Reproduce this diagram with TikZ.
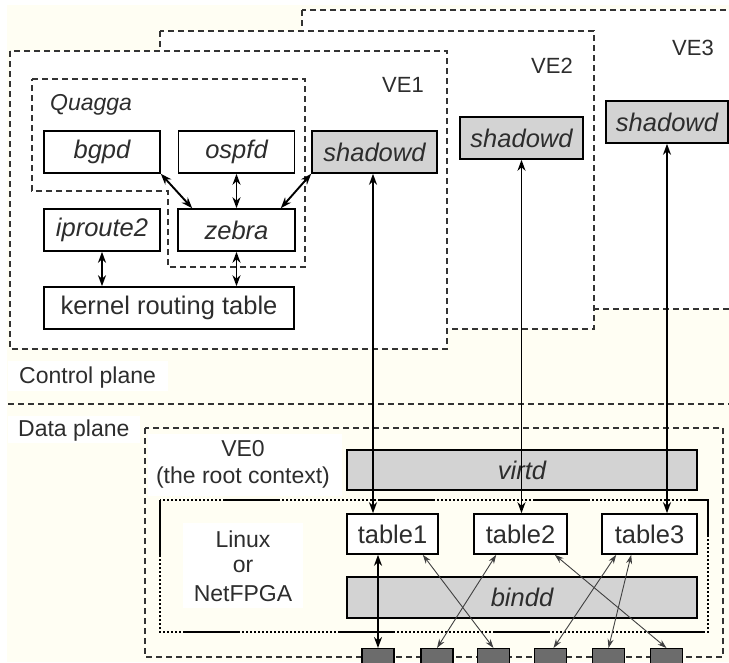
\documentclass[tikz,border=0pt]{standalone}
\usepackage{fontspec}
\setmainfont{Liberation Sans}
\usetikzlibrary{arrows.meta,calc}
\definecolor{cream}{RGB}{255,254,243}
\definecolor{boxgray}{RGB}{211,211,211}
\definecolor{sqgray}{RGB}{108,108,108}
\definecolor{txt}{RGB}{45,45,45}
\newcommand\lsz{\fontsize{23}{27}\selectfont}
\newcommand\bsz{\fontsize{25.5}{29}\selectfont}
\begin{document}
\begin{tikzpicture}[x=1pt,y=-1pt,
  box/.style={draw=black, line width=1.6pt, fill=white, minimum height=42pt, inner sep=0pt, text=txt, font=\bsz},
  ibox/.style={box, font=\bsz\itshape},
  gbox/.style={ibox, fill=boxgray},
  vebox/.style={draw=black!80, line width=1.4pt, dash pattern=on 6pt off 4pt},
  lbl/.style={text=txt, inner sep=0pt, font=\lsz},
  wlbl/.style={fill=white, inner sep=0pt},
  arr/.style={{Stealth[length=11pt,width=8pt]}-{Stealth[length=11pt,width=8pt]}, line width=1.9pt, draw=black},
  thinarr/.style={{Stealth[length=9pt,width=6pt]}-{Stealth[length=9pt,width=6pt]}, line width=0.9pt, draw=black!75},
  sq/.style={draw=black, line width=1.2pt, fill=sqgray, minimum width=32pt, minimum height=24pt, inner sep=0pt, anchor=north},
  ldd/.style={draw=black, line width=1.4pt, dash pattern=on 57pt off 2pt on 2pt off 2pt on 2pt off 2pt on 2pt off 2pt on 2pt off 2pt on 2pt off 2pt on 2pt off 2pt on 2pt off 2pt on 2pt off 2pt on 2pt off 2pt on 2pt off 2pt on 2pt off 2pt on 2pt off 2pt on 2pt off 2pt on 2pt off 2pt on 2pt off 2pt on 2pt off 2pt on 2pt off 2pt on 2pt off 2pt on 2pt off 2pt on 2pt off 2pt on 2pt off 2pt on 2pt off 2pt on 2pt off 2pt on 2pt off 2pt}
]
\useasboundingbox (0,0) rectangle (729,662);
\fill[cream] (7,5) rectangle (729,662);
% VE boxes
\draw[vebox, fill=white] (302,10) rectangle (745,309);
\draw[vebox, fill=white] (160,31) rectangle (594,329);
\draw[vebox, fill=white] (10,51) rectangle (447,349);
% Quagga outline
\draw[vebox] (32,79) -- (305,79) -- (305,267) -- (168,267) -- (168,191) -- (32,191) -- cycle;
\node[lbl, font=\lsz\itshape, anchor=west] (quagga) at (50,105) {Quagga};
\node[lbl, font=\fontsize{22}{26}\selectfont] (ve1) at (403,85) {VE1};
\node[lbl, font=\fontsize{22}{26}\selectfont] (ve2) at (552,66) {VE2};
\node[lbl, font=\fontsize{22}{26}\selectfont] (ve3) at (693,48) {VE3};
% control-plane nodes
\node[ibox, minimum width=116pt] (bgpd) at (102,152) {bgpd};
\node[ibox, minimum width=116pt] (ospfd) at (236.5,152) {ospfd};
\node[gbox, minimum width=125pt] (sh1) at (374.5,152) {shadowd};
\node[gbox, minimum width=123pt] (sh2) at (521.5,138) {shadowd};
\node[gbox, minimum width=122pt] (sh3) at (667,122) {shadowd};
\node[ibox, minimum width=116pt] (iproute) at (102,230) {iproute2};
\node[ibox, minimum width=117pt] (zebra) at (236.5,230) {zebra};
\node[box, minimum width=250pt] (kernel) at (169,308) {kernel routing table};
% plane separator
\node[wlbl, minimum width=160pt, minimum height=30pt] (cpbg) at (88,376) {};
\node[lbl, anchor=west] (cp) at (19,378) {Control plane};
\draw[vebox] (8,404) -- (729,404);
\node[wlbl, minimum width=132pt, minimum height=27pt] (dpbg) at (74,429) {};
\node[lbl, anchor=west] (dp) at (18,431) {Data plane};
% VE0
\draw[vebox] (145,428) rectangle (723,657);
\node[wlbl, minimum width=194pt, minimum height=62pt] (ve0bg) at (245,465) {};
\node[lbl] (ve0) at (243,449) {VE0};
\node[lbl] (ve0b) at (243,478) {(the root context)};
\node[gbox, minimum width=350pt, minimum height=40pt] (virtd) at (522,470) {virtd};
\draw[ldd] (160,500) rectangle (708,632);
\node[wlbl, minimum width=120pt, minimum height=85pt] (lnbg) at (243,565.5) {};
\node[lbl] (linux) at (243,539) {Linux};
\node[lbl] (or) at (243,566) {or};
\node[lbl] (netfpga) at (243,594) {NetFPGA};
\node[box, minimum width=91pt, minimum height=40pt] (t1) at (392.5,534) {table1};
\node[box, minimum width=93pt, minimum height=40pt] (t2) at (520.5,534) {table2};
\node[box, minimum width=95pt, minimum height=40pt] (t3) at (649.5,534) {table3};
\node[gbox, minimum width=350pt, minimum height=41pt] (bindd) at (522,597.5) {bindd};
% ports
\node[sq] (p1) at (378,648) {};
\node[sq] (p2) at (437,648) {};
\node[sq] (p3) at (493.5,648) {};
\node[sq] (p4) at (550.5,648) {};
\node[sq] (p5) at (608.5,648) {};
\node[sq] (p6) at (666.5,648) {};
% control-plane arrows
\draw[arr] (bgpd.south east) -- ([xshift=15pt]zebra.north west);
\draw[arr] (ospfd.south) -- (zebra.north);
\draw[arr] (sh1.south west) -- ([xshift=-15pt]zebra.north east);
\draw[arr] (iproute.south) -- (iproute.south |- kernel.north);
\draw[arr] (zebra.south) -- (zebra.south |- kernel.north);
\draw[arr] ([xshift=-1.5pt]sh1.south) -- ([xshift=-1.5pt]sh1.south |- t1.north);
\draw[arr] (sh2.south) -- (sh2.south |- t2.north);
\draw[arr] (sh3.south) -- (sh3.south |- t3.north);
% data-plane arrows
\draw[arr] (p1.north) -- (p1.north |- t1.south);
\draw[thinarr] ([xshift=-16pt]t1.south east) -- (p3.north);
\draw[thinarr] ([xshift=23pt]t2.south west) -- (p2.north);
\draw[thinarr] ([xshift=-13pt]t2.south east) -- (p6.north);
\draw[thinarr] ([xshift=15pt]t3.south west) -- ([xshift=3pt]p4.north);
\draw[thinarr] ([xshift=30pt]t3.south west) -- (p5.north);
\end{tikzpicture}
\end{document}
